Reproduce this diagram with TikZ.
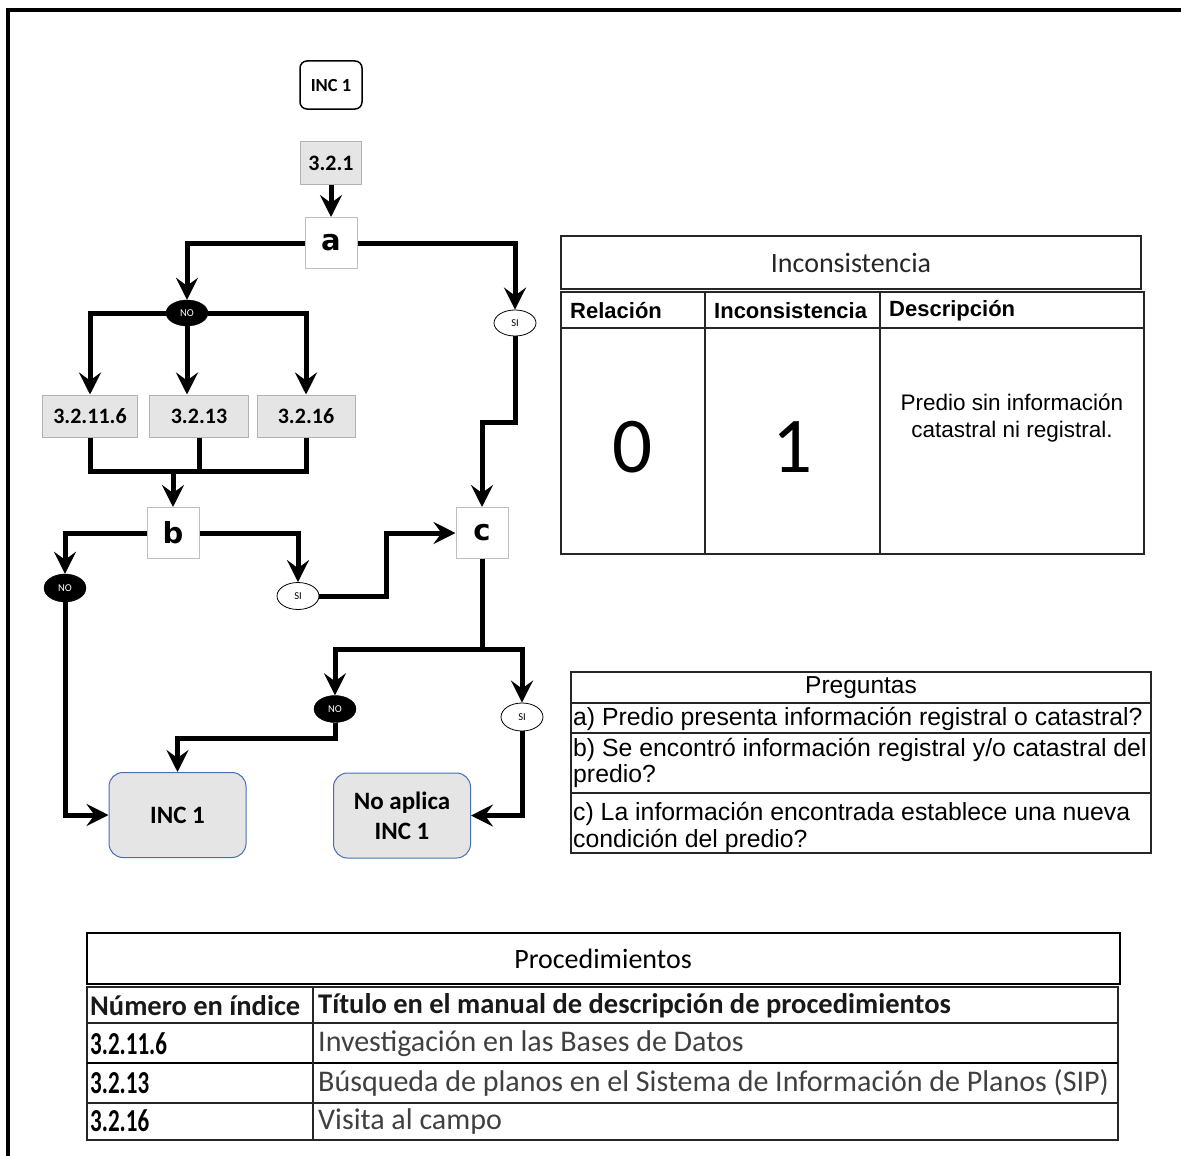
\documentclass[tikz,border=0pt]{standalone}
\usepackage{fontspec}
\setmainfont{Carlito}
\newfontfamily\arialf{Liberation Sans}
\newfontfamily\heavyf{DejaVu Sans}
\newfontfamily\narrowf[FakeStretch=0.72]{Carlito}
\usetikzlibrary{positioning, arrows.meta, shapes.geometric}
\definecolor{finborde}{HTML}{4A6EB0}

\begin{document}
\begin{tikzpicture}[
  x=1pt, y=-1pt,
  inicio/.style={draw, rounded corners=7pt, line width=1.5pt, fill=white,
    minimum width=62pt, minimum height=48pt, font=\bfseries\fontsize{18.5}{20}\selectfont},
  proc/.style={draw=black!30, line width=1pt, fill=black!10, minimum width=97pt,
    minimum height=42pt, inner sep=0pt, font=\bfseries\fontsize{22}{24}\selectfont},
  preg/.style={draw=black!25, line width=1pt, fill=white, minimum width=52pt,
    minimum height=51pt, inner sep=0pt, font=\heavyf\bfseries\fontsize{29}{30}\selectfont},
  nolbl/.style={ellipse, draw=black, fill=black, text=white, minimum width=42pt,
    minimum height=26pt, inner sep=0pt, font=\fontsize{10.5}{12}\selectfont},
  silbl/.style={nolbl, fill=white, text=black, line width=0.8pt},
  fin/.style={draw=finborde, line width=1pt, rounded corners=14pt, fill=black!10,
    minimum width=137pt, minimum height=85pt, align=center,
    font=\bfseries\fontsize{25}{30}\selectfont},
  arrow/.style={-{Stealth[length=22pt, width=22pt, inset=8pt]}, line width=5pt},
  conn/.style={line width=5pt},
  cell/.style={inner sep=0pt, anchor=west},
  rule/.style={line width=1.3pt, draw=black!85},
]
  \useasboundingbox (0,0) rectangle (1181,1156);
  \draw[line width=4pt] (8,1170) -- (8,10) -- (1190,10);

  \node[inicio] (inc) at (331,85) {INC 1};
  \node[proc, minimum width=61pt, minimum height=43pt] (p321) at (331,163) {3.2.1};
  \node[preg] (qa) at (331,243) {a};
  \node[nolbl] (noA) at (187,313) {NO};
  \node[silbl] (siA) at (515,323) {SI};
  \node[proc, minimum width=95pt] (p3211) at (90,416) {3.2.11.6};
  \node[proc, minimum width=99pt] (p3213) at (199,416) {3.2.13};
  \node[proc, minimum width=98pt] (p3216) at (306,416) {3.2.16};
  \node[preg] (qb) at (173,533) {b};
  \node[preg] (qc) at (482,533) {c};
  \node[nolbl, minimum height=28pt] (noB) at (65,588) {NO};
  \node[silbl, minimum height=27pt] (siB) at (298,596) {SI};
  \node[nolbl, minimum height=27pt] (noC) at (335,709) {NO};
  \node[silbl, minimum height=28pt] (siC) at (522,717) {SI};
  \node[fin] (inc1) at (177.5,815) {INC 1};
  \node[fin] (noap) at (402,815.5) {No aplica\\INC 1};

  \draw[arrow] (p321) -- (qa);
  \draw[arrow] (qa.west) -| (noA.north);
  \draw[arrow] (noA.west) -| (p3211.north);
  \draw[arrow] (noA.east) -| (p3216.north);
  \draw[arrow] (noA.south) -- (noA.south |- p3213.north);
  \coordinate (jb) at (173,471);
  \draw[conn] (p3211.south) |- (p3216.south |- jb) -- (p3216.south);
  \draw[conn] (p3213.south) -- (p3213.south |- jb);
  \draw[arrow] (jb) -- (qb.north);
  \draw[arrow] (qb.west) -| (noB.north);
  \draw[arrow] (noB.south) |- (inc1.west);
  \draw[arrow] (qb.east) -| (siB.north);
  \draw[arrow] (siB.east) -- ++(67,0) |- (qc.west);
  \draw[arrow] (qa.east) -| (siA.north);
  \draw[arrow] (siA.south) -- (siA.south |- 0,422) -| (qc.north);
  \coordinate (jc) at (482,649);
  \draw[arrow] (qc.south) -- (jc) -| (noC.north);
  \draw[arrow] (jc) -| (siC.north);
  \draw[arrow] (noC.south) -- (noC.south |- 0,738) -| (inc1.north);
  \draw[arrow] (siC.south) |- (noap.east);

  \draw[rule] (561,236) rectangle (1141,289);
  \node[text=black!85, font=\fontsize{28}{32}\selectfont] (tinc) at (851,263) {Inconsistencia};
  \draw[rule] (561,292) rectangle (1144,554);
  \draw[rule] (561,328) -- (1144,328);
  \draw[rule] (705,292) -- (705,554);
  \draw[rule] (880,292) -- (880,554);
  \node[cell, font=\arialf\bfseries\fontsize{22}{26}\selectfont] (hrel) at (570,311) {Relación};
  \node[cell, font=\arialf\bfseries\fontsize{22}{26}\selectfont] (hinc) at (714,311) {Inconsistencia};
  \node[cell, font=\arialf\bfseries\fontsize{22}{26}\selectfont] (hdes) at (889,311) {Descripción};
  \node[font=\fontsize{79}{80}\selectfont] (vrel) at (633,447) {0};
  \node[font=\fontsize{79}{80}\selectfont] (vinc) at (793,447) {1};
  \node[align=center, font=\arialf\fontsize{22.5}{27}\selectfont] (vdes) at (1012,418)
    {Predio sin información\\catastral ni registral.};

  \draw[rule] (571,672) rectangle (1151,853);
  \draw[rule] (571,703) -- (1151,703);
  \draw[rule] (571,733) -- (1151,733);
  \draw[rule] (571,793) -- (1151,793);
  \node[font=\arialf\fontsize{24.5}{26}\selectfont] (tpreg) at (861,688) {Preguntas};
  \node[cell, align=left, font=\arialf\fontsize{24.8}{26}\selectfont] (pa) at (573,719)
    {a) Predio presenta información registral o catastral?};
  \node[cell, align=left, font=\arialf\fontsize{24.8}{26}\selectfont] (pb) at (573,763)
    {b) Se encontró información registral y/o catastral del\\predio?};
  \node[cell, align=left, font=\arialf\fontsize{24.8}{27}\selectfont] (pc) at (573,827)
    {c) La información encontrada establece una nueva\\condición del predio?};

  \draw[line width=1.8pt] (87,933) rectangle (1120,984);
  \node[font=\fontsize{28}{32}\selectfont] (tproc) at (603,959) {Procedimientos};
  \draw[rule] (87,987) rectangle (1118,1140);
  \draw[rule] (87,1023) -- (1118,1023);
  \draw[line width=2.5pt] (87,1063) -- (1118,1063);
  \draw[rule] (87,1103) -- (1118,1103);
  \draw[rule] (313,987) -- (313,1140);
  \node[cell, text=black!90, font=\bfseries\fontsize{28.5}{32}\selectfont] (hnum) at (90,1006) {Número en índice};
  \node[cell, text=black!90, font=\bfseries\fontsize{28.5}{32}\selectfont] (htit) at (318,1006)
    {Título en el manual de descripción de procedimientos};
  \node[cell, font=\narrowf\bfseries\fontsize{32}{34}\selectfont] (n1) at (90,1044) {3.2.11.6};
  \node[cell, font=\narrowf\bfseries\fontsize{32}{34}\selectfont] (n2) at (90,1083) {3.2.13};
  \node[cell, font=\narrowf\bfseries\fontsize{32}{34}\selectfont] (n3) at (90,1121) {3.2.16};
  \node[cell, text=black!75, font=\fontsize{30}{32}\selectfont] (t1) at (318,1044)
    {Investigación en las Bases de Datos};
  \node[cell, text=black!75, font=\fontsize{30}{32}\selectfont] (t2) at (318,1083)
    {Búsqueda de planos en el Sistema de Información de Planos (SIP)};
  \node[cell, text=black!75, font=\fontsize{30}{32}\selectfont] (t3) at (318,1121)
    {Visita al campo};
\end{tikzpicture}
\end{document}
